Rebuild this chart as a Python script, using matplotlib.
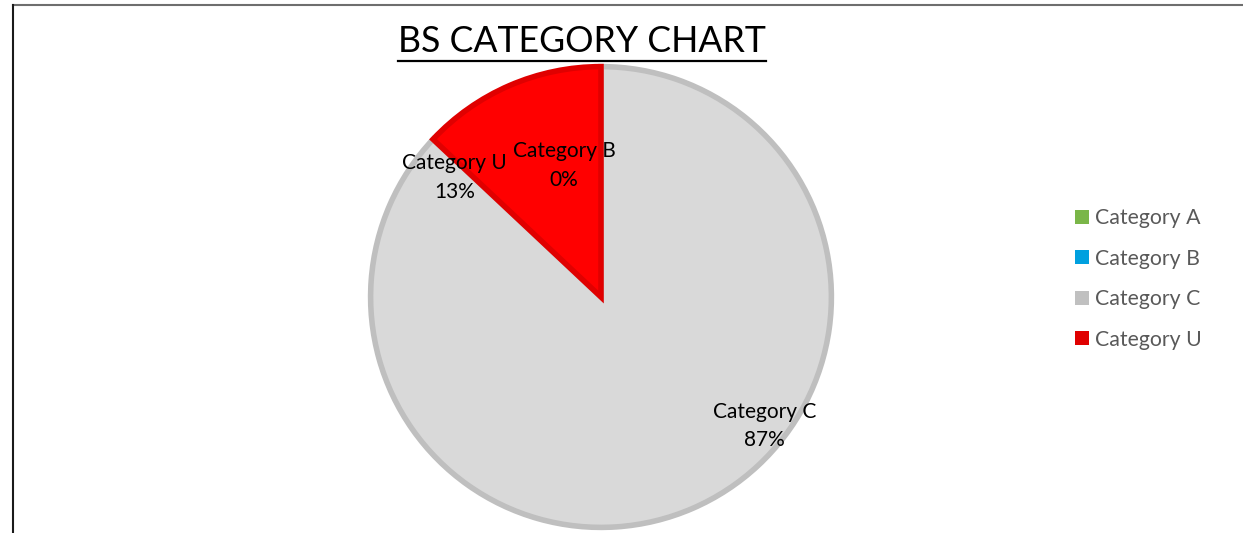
import numpy as np
import matplotlib.pyplot as plt
from matplotlib.lines import Line2D
from matplotlib.patches import Patch

plt.rcParams['font.family'] = ['Lato', 'DejaVu Sans']

''' data '''
categories = ['Category A', 'Category B', 'Category C', 'Category U']
values = [0, 0, 87, 13]
pct_labels = ['0%', '0%', '87%', '13%']
fill_colors = ['#70AD47', '#00A0DF', '#D9D9D9', '#FF0000']
edge_colors = ['#70AD47', '#00A0DF', '#BFBFBF', '#E00000']
legend_colors = ['#7AB648', '#00A0DF', '#C0C0C0', '#E00000']

# label positions (pie radius = 1), Excel-like placement
label_pos = {'Category B': (-0.16, 0.57), 'Category C': (0.71, -0.56), 'Category U': (-0.635, 0.52)}

W, H = 1243, 533
fig = plt.figure(figsize=(W/100, H/100), dpi=100)

cx, cy, r = 601, 297, 235
ax = fig.add_axes([(cx - r)/W, (H - cy - r)/H, 2*r/W, 2*r/H])
wedges, _ = ax.pie(values, colors=fill_colors, startangle=90, counterclock=False,
                   radius=1.0, wedgeprops=dict(linewidth=4))
for w, ec in zip(wedges, edge_colors):
	w.set_edgecolor(ec)
ax.set_xlim(-1.02, 1.02)
ax.set_ylim(-1.02, 1.02)
ax.set_aspect('equal')
ax.axis('off')

for name, p in zip(categories, pct_labels):
	if name in label_pos:
		x, y = label_pos[name]
		ax.text(x, y, name + '\n' + p, ha='center', va='center', fontsize=15,
		        color='black', linespacing=1.55)

''' title with underline '''
t = fig.text(582/W, 1 - 42/H, 'BS CATEGORY CHART', ha='center', va='center',
             fontsize=25.7, color='black')
fig.canvas.draw()
bb = t.get_window_extent().transformed(fig.transFigure.inverted())
fig.add_artist(Line2D([bb.x0, bb.x1], [1 - 61/H, 1 - 61/H], transform=fig.transFigure,
                      color='black', lw=1.6))

''' legend '''
handles = [Patch(facecolor=c, edgecolor='none') for c in legend_colors]
leg = fig.legend(handles, categories, loc='center left', bbox_to_anchor=(1056/W, 1 - 279/H),
                 frameon=False, fontsize=15.3, handlelength=0.65, handleheight=0.65,
                 handletextpad=0.3, labelspacing=0.96)
for txt in leg.get_texts():
	txt.set_color('#595959')

''' frame lines '''
fig.add_artist(Line2D([13/W, 1], [1 - 5/H, 1 - 5/H], transform=fig.transFigure, color='#6E6E6E', lw=1.5))
fig.add_artist(Line2D([13/W, 13/W], [0, 1 - 5/H], transform=fig.transFigure, color='#1A1A1A', lw=1.5))

fig.savefig('out.png', dpi=100)
